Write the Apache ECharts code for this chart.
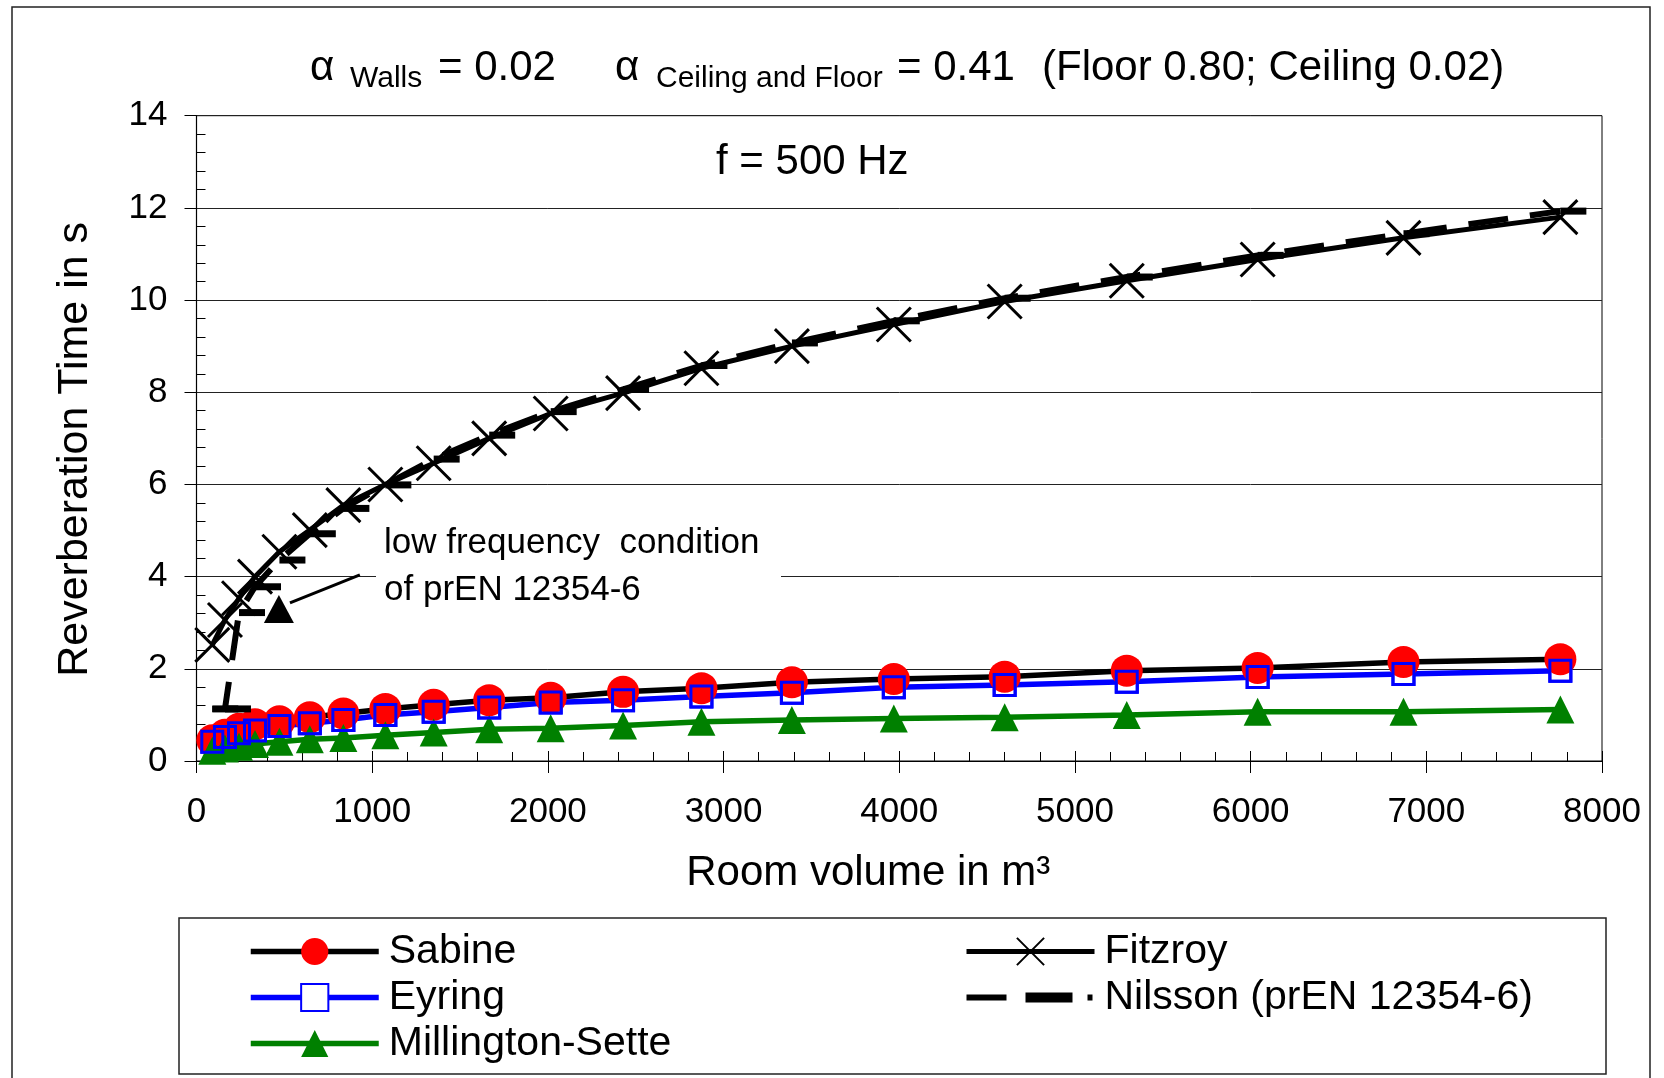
<!DOCTYPE html>
<html>
<head>
<meta charset="utf-8">
<script src="https://cdn.jsdelivr.net/npm/echarts@6/dist/echarts.min.js"></script>
<style>
  html, body { margin: 0; padding: 0; background: #fff; }
  #chart { width: 1664px; height: 1078px; }
</style>
</head>
<body>
<div id="chart"></div>
<script>
// Room volumes (m³) shared by all methods
const volumes = [90, 162, 242, 333, 472, 645, 836, 1075, 1350, 1666, 2016, 2428, 2874, 3389, 3969, 4600, 5295, 6040, 6870, 7763];

// Reverberation time (s) per prediction method, f = 500 Hz
const sabine     = [0.45, 0.57, 0.70, 0.80, 0.86, 0.95, 1.03, 1.13, 1.22, 1.32, 1.37, 1.50, 1.58, 1.71, 1.78, 1.83, 1.96, 2.02, 2.15, 2.21];
const eyring     = [0.42, 0.52, 0.60, 0.66, 0.76, 0.82, 0.89, 1.00, 1.07, 1.16, 1.27, 1.32, 1.40, 1.48, 1.60, 1.65, 1.72, 1.82, 1.89, 1.96];
const millington = [0.22, 0.27, 0.31, 0.37, 0.42, 0.47, 0.50, 0.56, 0.62, 0.69, 0.71, 0.77, 0.85, 0.89, 0.92, 0.95, 1.00, 1.07, 1.07, 1.12];
const fitzroy    = [2.52, 3.06, 3.53, 4.00, 4.54, 5.01, 5.55, 6.00, 6.46, 7.00, 7.54, 7.98, 8.52, 9.00, 9.47, 9.97, 10.42, 10.88, 11.35, 11.80];
const nilsson    = [1.13, 1.13, 3.22, 3.78, 4.36, 4.93, 5.48, 5.99, 6.55, 7.07, 7.58, 8.06, 8.58, 9.07, 9.55, 10.04, 10.50, 10.97, 11.44, 11.93];

// Annotation arrow (volume, time) pointing to the low frequency limit
const arrowLine = [[930, 4.04], [532, 3.43]];
const arrowHead = [[469, 3.30]];

// Axis ranges
const xRange = { min: 0, max: 8000, step: 1000 };
const yRange = { min: 0, max: 14, step: 2 };

const FONT = '"Liberation Sans", Arial, sans-serif';
const pairs = vals => volumes.map((v, i) => [v, vals[i]]);

const chart = echarts.init(document.getElementById('chart'), null, { renderer: 'canvas' });

const nilssonIcon = 'path://M0,0L0.01,0M128,34L127.99,34M0,14h40v6h-40ZM59,12h47v10h-47ZM121,14h5v6h-5Z';

const legendCommon = {
  orient: 'vertical', top: 931, padding: 0,
  itemWidth: 128, itemHeight: 34, itemGap: 5,
  selectedMode: false,
  lineStyle: { width: 'inherit' },
  textStyle: { fontSize: 41, color: '#000', fontFamily: FONT, padding: [0, 0, 0, 5] }
};

const option = {
  animation: false,
  backgroundColor: '#fff',
  textStyle: { fontFamily: FONT },
  grid: {
    left: 196.5, right: 62, top: 115.7, bottom: 317,
    show: true, borderColor: '#000', borderWidth: 1, backgroundColor: 'transparent'
  },
  xAxis: [{
    type: 'value', min: xRange.min, max: xRange.max, interval: xRange.step,
    name: 'Room volume in m³', nameLocation: 'middle', nameGap: 91,
    nameTextStyle: { fontSize: 42, color: '#000', fontFamily: FONT, padding: [0, 62, 0, 0] },
    axisLine: { show: true, lineStyle: { color: '#000', width: 1.2 } },
    axisTick: { show: true, length: 12, lineStyle: { color: '#000', width: 1 } },
    minorTick: { show: true, splitNumber: 5, length: -9, lineStyle: { color: '#000', width: 1 } },
    axisLabel: { fontSize: 35, color: '#000', margin: 34, fontFamily: FONT, formatter: v => String(v) },
    splitLine: { show: false }
  }, {
    // inner half of the major x ticks
    type: 'value', min: xRange.min, max: xRange.max, interval: xRange.step, position: 'bottom',
    axisLine: { show: false },
    axisTick: { show: true, inside: true, length: 10, lineStyle: { color: '#000', width: 1 } },
    axisLabel: { show: false }, splitLine: { show: false }
  }],
  yAxis: {
    type: 'value', min: yRange.min, max: yRange.max, interval: yRange.step,
    name: 'Reverberation Time in s', nameLocation: 'middle', nameGap: 100,
    nameTextStyle: { fontSize: 43, color: '#000', fontFamily: FONT, padding: [0, 22, 0, 0] },
    axisLine: { show: true, lineStyle: { color: '#000', width: 1.2 } },
    axisTick: { show: true, length: 12, lineStyle: { color: '#000', width: 1 } },
    minorTick: { show: true, splitNumber: 5, length: -9, lineStyle: { color: '#000', width: 1 } },
    axisLabel: { fontSize: 35, color: '#000', margin: 29, fontFamily: FONT },
    splitLine: { show: true, lineStyle: { color: '#222', width: 1 } }
  },
  legend: [
    Object.assign({ data: ['Sabine', 'Eyring', 'Millington-Sette'], left: 248 }, legendCommon),
    Object.assign({ data: ['Fitzroy', { name: 'Nilsson (prEN 12354-6)', icon: nilssonIcon }], left: 964 }, legendCommon)
  ],
  graphic: [
    // outer frame and legend frame
    { type: 'rect', z: 0, shape: { x: 12, y: 7, width: 1638, height: 1090 }, style: { fill: 'none', stroke: '#222', lineWidth: 1.5 } },
    { type: 'rect', z: 0, shape: { x: 179, y: 918, width: 1427, height: 156 }, style: { fill: 'none', stroke: '#222', lineWidth: 1.5 } },
    // headline with absorption coefficients
    { type: 'text', z: 10, x: 310, y: 68, style: { text: 'α', fontSize: 42, fontFamily: FONT, fill: '#000', verticalAlign: 'middle' } },
    { type: 'text', z: 10, x: 350, y: 79, style: { text: 'Walls', fontSize: 30, fontFamily: FONT, fill: '#000', verticalAlign: 'middle' } },
    { type: 'text', z: 10, x: 438, y: 68, style: { text: '= 0.02', fontSize: 42, fontFamily: FONT, fill: '#000', verticalAlign: 'middle' } },
    { type: 'text', z: 10, x: 615, y: 68, style: { text: 'α', fontSize: 42, fontFamily: FONT, fill: '#000', verticalAlign: 'middle' } },
    { type: 'text', z: 10, x: 656, y: 79, style: { text: 'Ceiling and Floor', fontSize: 30, fontFamily: FONT, fill: '#000', verticalAlign: 'middle' } },
    { type: 'text', z: 10, x: 897, y: 68, style: { text: '= 0.41', fontSize: 42, fontFamily: FONT, fill: '#000', verticalAlign: 'middle' } },
    { type: 'text', z: 10, x: 1042, y: 68, style: { text: '(Floor 0.80; Ceiling 0.02)', fontSize: 42, fontFamily: FONT, fill: '#000', verticalAlign: 'middle' } },
    // frequency note
    { type: 'text', z: 10, x: 716, y: 162, style: { text: 'f = 500 Hz', fontSize: 42, fontFamily: FONT, fill: '#000', verticalAlign: 'middle' } },
    // annotation box
    { type: 'rect', z: 100, shape: { x: 376, y: 520, width: 405, height: 92 }, style: { fill: '#fff', stroke: 'none' } },
    { type: 'text', z: 101, x: 384, y: 543, style: { text: 'low frequency  condition', fontSize: 35, fontFamily: FONT, fill: '#000', verticalAlign: 'middle' } },
    { type: 'text', z: 101, x: 384, y: 590, style: { text: 'of prEN 12354-6', fontSize: 35, fontFamily: FONT, fill: '#000', verticalAlign: 'middle' } }
  ],
  series: [
    {
      name: 'Eyring', type: 'line', z: 1, data: pairs(eyring),
      symbol: 'rect', symbolSize: 21, showSymbol: true,
      lineStyle: { color: '#0000FF', width: 5.5 },
      itemStyle: { color: '#fff', borderColor: '#0000FF', borderWidth: 3 }
    },
    {
      name: 'Sabine', type: 'line', z: 2, data: pairs(sabine),
      symbol: 'circle', symbolSize: 32, showSymbol: true,
      lineStyle: { color: '#000', width: 5.5 },
      itemStyle: { color: '#FF0000', borderWidth: 0 }
    },
    {
      name: 'Eyring squares', type: 'scatter', z: 3, data: pairs(eyring),
      symbol: 'rect', symbolSize: 21, silent: true,
      itemStyle: { color: 'rgba(0,0,0,0)', borderColor: '#0000FF', borderWidth: 3, opacity: 1 }
    },
    {
      name: 'Millington-Sette', type: 'line', z: 2, data: pairs(millington),
      symbol: 'triangle', symbolSize: 28, showSymbol: true,
      lineStyle: { color: '#008000', width: 5.5 },
      itemStyle: { color: '#008000', borderWidth: 0 }
    },
    {
      name: 'Fitzroy', type: 'line', z: 2, data: pairs(fitzroy),
      symbol: 'path://M0,0L10,10M10,0L0,10', symbolSize: 34, showSymbol: true,
      lineStyle: { color: '#000', width: 5 },
      itemStyle: { color: 'rgba(0,0,0,0)', borderColor: '#000', borderWidth: 3 }
    },
    {
      name: 'Nilsson (prEN 12354-6)', type: 'line', z: 2, data: pairs(nilsson),
      symbol: 'rect', symbolSize: [26, 7], symbolOffset: [13, 0], showSymbol: true,
      lineStyle: { color: '#000', width: 6, type: [40, 22] },
      itemStyle: { color: '#000', borderWidth: 0 }
    },
    {
      name: 'arrow', type: 'line', z: 3, data: arrowLine, silent: true,
      symbol: 'none', lineStyle: { color: '#000', width: 3 }
    },
    {
      name: 'arrow head', type: 'scatter', z: 3, data: arrowHead, silent: true,
      symbol: 'triangle', symbolSize: [30, 28], itemStyle: { color: '#000', opacity: 1 }
    }
  ]
};

chart.setOption(option);
</script>
</body>
</html>
